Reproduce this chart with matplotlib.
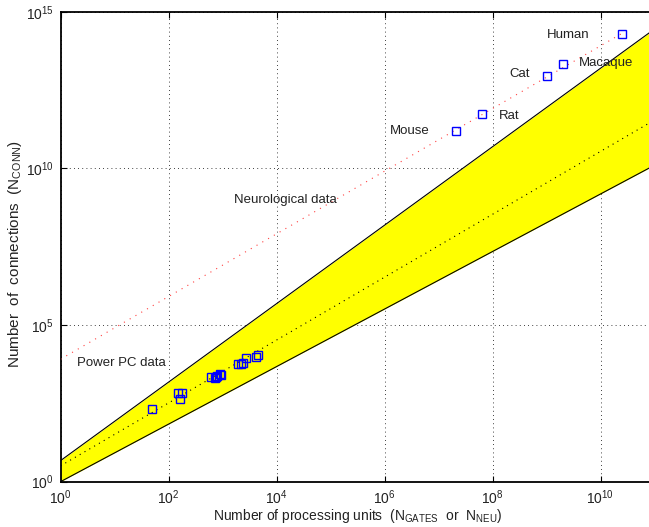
import matplotlib
matplotlib.use('Agg')
import matplotlib.pyplot as plt

plt.rcParams['font.family'] = ['Liberation Sans', 'DejaVu Sans']
plt.rcParams['mathtext.fontset'] = 'custom'
plt.rcParams['mathtext.rm'] = 'Liberation Sans'
plt.rcParams['mathtext.it'] = 'Liberation Sans:italic'
plt.rcParams['mathtext.default'] = 'regular'

# end points of the straight lines bounding the band (log-log)
band_x = [1.0, 1e11]
band_upper = [4.7, 2.8e14]
band_lower = [1.0, 1.26e10]
band_mid = [3.2, 3.5e11]

# neurological data
neuro_names = ['Mouse', 'Rat', 'Cat', 'Macaque', 'Human']
neuro_x = [2.09e7, 6.5e7, 1.0e9, 2.0e9, 2.5e10]
neuro_y = [1.58e11, 5.4e11, 8.9e12, 2.2e13, 2.0e14]
neuro_fit_x = [1.0, 2.5e10]
neuro_fit_y = [8.1e3, 2.03e14]

# Power PC data
ppc_x = [49, 151, 178, 166, 617, 759, 891, 955, 794, 741,
         1950, 2239, 2399, 2692, 4169, 4571]
ppc_y = [209, 692, 692, 437, 2138, 2138, 2754, 2512, 2344, 1995,
         5623, 5754, 6026, 8710, 9550, 10965]

# label anchors (left edge, vertical centre)
label_pos = {
    'Mouse': (1.26e6, 1.58e11),
    'Rat': (1.32e8, 4.8e11),
    'Cat': (2.05e8, 1.0e13),
    'Macaque': (4.0e9, 2.35e13),
    'Human': (1.0e9, 1.78e14),
}

fig = plt.figure(figsize=(6.49, 5.27), dpi=100)
ax = fig.add_axes([60.5 / 649, 45.3 / 527, 594 / 649, 470 / 527])

ax.fill_between(band_x, band_lower, band_upper, color='#ffff00', lw=0, zorder=2)
ax.plot(band_x, band_upper, color='black', lw=0.8, zorder=3)
ax.plot(band_x, band_lower, color='black', lw=0.8, zorder=3)
ax.plot(band_x, band_mid, color='black', lw=0.8, ls=(0, (1, 4)), zorder=3)

ax.plot(neuro_fit_x, neuro_fit_y, color='#ff4040', lw=0.8, ls=(0, (1, 5)), zorder=3)
ax.plot(neuro_x, neuro_y, 's', ms=5.3, mfc='none', mec='#0000ff', mew=1.0, zorder=4)
ax.plot(ppc_x, ppc_y, 's', ms=5.6, mfc='none', mec='#0000ff', mew=1.0, zorder=4)

tcol = '#222222'
fs = 9.5
for name in neuro_names:
    px, py = label_pos[name]
    ax.text(px, py, name, fontsize=fs, color=tcol, ha='left', va='center', zorder=5)
ax.text(1.6e3, 1.0e9, 'Neurological data', fontsize=fs, color=tcol,
        ha='left', va='center', zorder=5)
ax.text(2.0, 6.0e3, 'Power PC data', fontsize=fs, color=tcol,
        ha='left', va='center', zorder=5)

ax.set_xscale('log')
ax.set_yscale('log')
ax.set_xlim(1, 1e11)
ax.set_ylim(1, 1e15)
ax.set_xticks([1e0, 1e2, 1e4, 1e6, 1e8, 1e10])
ax.set_yticks([1e0, 1e5, 1e10, 1e15])
ax.minorticks_off()
ax.tick_params(direction='in', top=True, right=True, length=4, width=0.8,
               labelsize=10, colors='black', labelcolor=tcol)
ax.tick_params(axis='x', pad=5)
ax.tick_params(axis='y', pad=5)
for s in ax.spines.values():
    s.set_linewidth(1.3)

ax.set_axisbelow(True)
ax.grid(True, which='major', color='black', lw=0.6, ls=(0, (1, 4)), zorder=1)

ax.set_xlabel('Number of processing units  (N$_{GATES}$  or  N$_{NEU}$)',
              fontsize=10, color=tcol)
ax.xaxis.set_label_coords(0.5, -0.053)
ax.set_ylabel('Number  of  connections  (N$_{CONN}$)', fontsize=11, color=tcol)
ax.yaxis.set_label_coords(-0.062, 0.485)

fig.savefig('out.png', dpi=100)
